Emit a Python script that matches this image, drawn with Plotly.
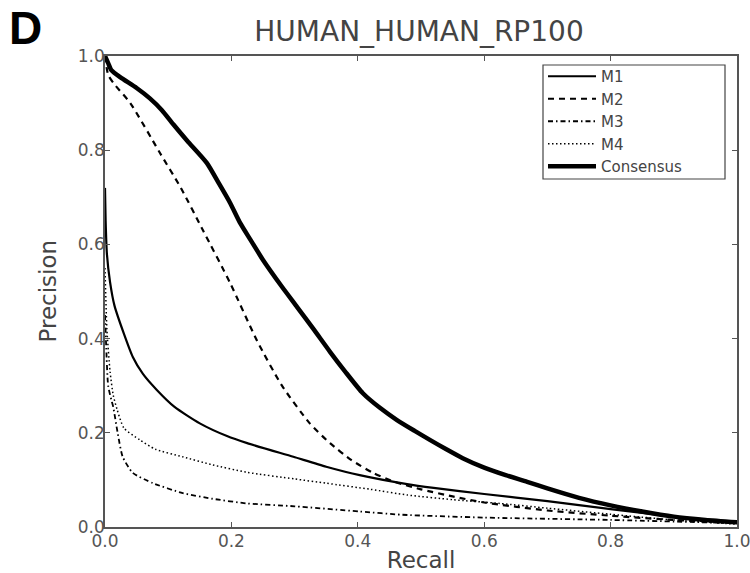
import plotly.graph_objects as go

# ---- data ----
cons_x = [0, 0.005, 0.01, 0.024, 0.05, 0.071, 0.09, 0.108, 0.13, 0.161, 0.18, 0.198, 0.214,
          0.23, 0.25, 0.28, 0.304, 0.33, 0.356, 0.38, 0.408, 0.435, 0.462, 0.49, 0.514,
          0.54, 0.566, 0.6, 0.634, 0.668, 0.7, 0.75, 0.8, 0.85, 0.9, 0.95, 1.0]
cons_y = [1.0, 0.985, 0.97, 0.955, 0.932, 0.91, 0.885, 0.855, 0.82, 0.773, 0.73, 0.688, 0.645,
          0.61, 0.567, 0.51, 0.467, 0.42, 0.372, 0.33, 0.284, 0.253, 0.227, 0.204, 0.185,
          0.165, 0.146, 0.126, 0.11, 0.096, 0.082, 0.062, 0.046, 0.033, 0.022, 0.015, 0.01]

m2_x = [0, 0.005, 0.013, 0.04, 0.087, 0.12, 0.155, 0.198, 0.24, 0.28, 0.324, 0.356, 0.39,
        0.424, 0.46, 0.5, 0.55, 0.6, 0.7, 0.8, 0.9, 1.0]
m2_y = [1.0, 0.96, 0.943, 0.9, 0.794, 0.72, 0.63, 0.518, 0.397, 0.30, 0.22, 0.178, 0.142,
        0.115, 0.095, 0.08, 0.065, 0.052, 0.035, 0.024, 0.015, 0.01]

m1_x = [0, 0.001, 0.003, 0.008, 0.015, 0.03, 0.044, 0.06, 0.082, 0.11, 0.15, 0.193, 0.225,
        0.298, 0.35, 0.403, 0.478, 0.52, 0.6, 0.7, 0.8, 0.9, 1.0]
m1_y = [0.72, 0.65, 0.58, 0.52, 0.47, 0.41, 0.361, 0.325, 0.291, 0.255, 0.22, 0.193, 0.178,
        0.149, 0.128, 0.11, 0.091, 0.083, 0.07, 0.055, 0.038, 0.022, 0.01]

m4_x = [0, 0.003, 0.008, 0.013, 0.019, 0.03, 0.055, 0.08, 0.123, 0.17, 0.225, 0.3, 0.35,
        0.42, 0.478, 0.55, 0.625, 0.7, 0.8, 0.9, 1.0]
m4_y = [0.55, 0.42, 0.33, 0.28, 0.25, 0.21, 0.185, 0.165, 0.149, 0.132, 0.116, 0.102, 0.093,
        0.08, 0.068, 0.058, 0.05, 0.04, 0.027, 0.015, 0.006]

m3_x = [0, 0.002, 0.005, 0.01, 0.013, 0.02, 0.028, 0.044, 0.076, 0.123, 0.17, 0.225, 0.3,
        0.403, 0.47, 0.6, 0.8, 1.0]
m3_y = [0.45, 0.38, 0.3, 0.27, 0.255, 0.2, 0.149, 0.115, 0.093, 0.072, 0.06, 0.05, 0.044,
        0.033, 0.026, 0.02, 0.015, 0.008]

tick_vals = [0.0, 0.2, 0.4, 0.6, 0.8, 1.0]
tick_text = ["0.0", "0.2", "0.4", "0.6", "0.8", "1.0"]

fig = go.Figure()
fig.add_trace(go.Scatter(x=m1_x, y=m1_y, mode="lines", name="M1",
                         line=dict(color="black", width=2.2, shape="spline", smoothing=0.6)))
fig.add_trace(go.Scatter(x=m2_x, y=m2_y, mode="lines", name="M2",
                         line=dict(color="black", width=2.2, dash="6px,5px",
                                   shape="spline", smoothing=0.6)))
fig.add_trace(go.Scatter(x=m3_x, y=m3_y, mode="lines", name="M3",
                         line=dict(color="black", width=1.8, dash="5px,3px,1.5px,3px",
                                   shape="spline", smoothing=0.6)))
fig.add_trace(go.Scatter(x=m4_x, y=m4_y, mode="lines", name="M4",
                         line=dict(color="black", width=1.5, dash="1.5px,2.5px",
                                   shape="spline", smoothing=0.6)))
fig.add_trace(go.Scatter(x=cons_x, y=cons_y, mode="lines", name="Consensus",
                         line=dict(color="black", width=4.5, shape="spline", smoothing=0.6)))

axis_common = dict(
    range=[0, 1], tickvals=tick_vals, ticktext=tick_text, automargin=False,
    showgrid=False, zeroline=False, showline=True, linecolor="#555", linewidth=1.5,
    mirror="ticks", ticks="inside", ticklen=5, tickcolor="#555",
    ticklabeloverflow="allow",
    tickfont=dict(family="DejaVu Sans", size=17, color="#555"),
)

PL, PR, PT, PB = 105, 737, 56, 527  # plot-area edges in pixels (layout only)
W, H = 750, 573

fig.update_layout(
    width=W, height=H,
    margin=dict(l=PL, r=W - PR, t=PT, b=H - PB),
    paper_bgcolor="white", plot_bgcolor="white",
    title=dict(text="HUMAN_HUMAN_RP100", x=(255 + 583) / 2 / W, xanchor="center",
               y=1 - 31 / H, yanchor="middle", yref="container",
               font=dict(family="DejaVu Sans", size=28, color="#444")),
    xaxis=dict(axis_common, ticklabelstandoff=-2,
               title=dict(text="Recall", standoff=4,
                          font=dict(family="DejaVu Sans", size=23, color="#444"))),
    yaxis=dict(axis_common, ticklabelstandoff=-5),
    legend=dict(x=(543 - PL) / (PR - PL), y=(PB - 60) / (PB - PT),
                xanchor="left", yanchor="top",
                borderwidth=0, bgcolor="rgba(0,0,0,0)",
                font=dict(family="DejaVu Sans", size=15, color="#444"),
                tracegroupgap=0, itemwidth=48),
    showlegend=True,
)

# legend frame
fig.add_shape(type="rect", xref="paper", yref="paper", layer="above",
              x0=(543 - PL) / (PR - PL), x1=(725 - PL) / (PR - PL),
              y0=(PB - 179) / (PB - PT), y1=(PB - 65) / (PB - PT),
              line=dict(color="#444", width=1.2), fillcolor="white")

fig.add_annotation(text="Precision", xref="paper", yref="paper",
                   x=(47 - PL) / (PR - PL), y=0.5, xanchor="center", yanchor="middle",
                   textangle=-90, showarrow=False,
                   font=dict(family="DejaVu Sans", size=23, color="#444"))

fig.add_annotation(text="<b>D</b>", xref="paper", yref="paper",
                   x=(7 - PL) / (PR - PL), y=(PB - 28) / (PB - PT),
                   xanchor="left", yanchor="middle", showarrow=False,
                   font=dict(family="Liberation Sans", size=46, color="black"))

fig.write_html("out.html")
